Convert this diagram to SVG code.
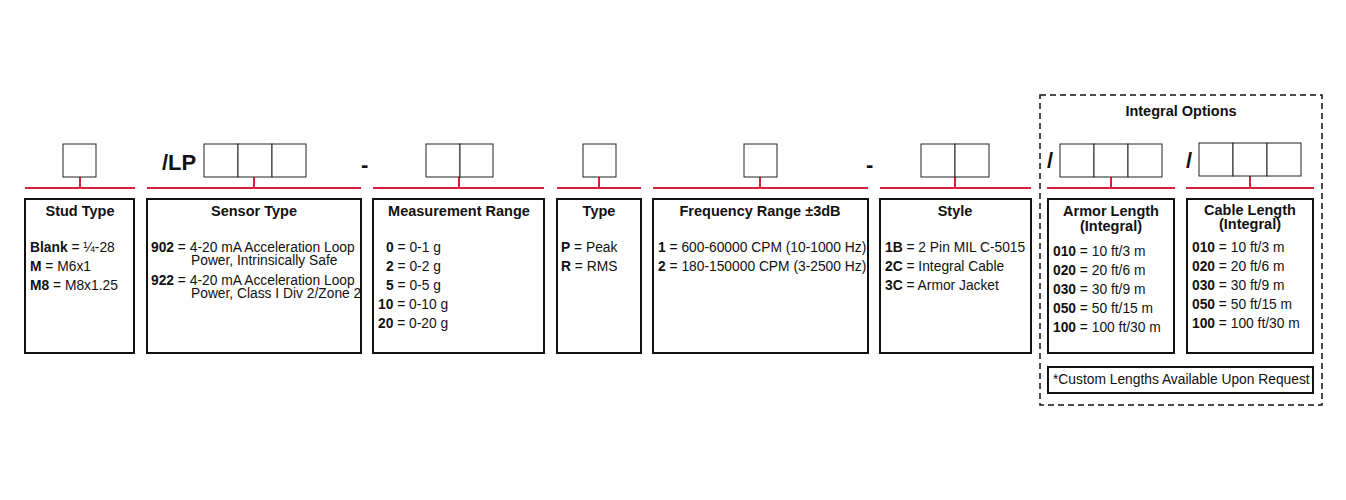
<svg xmlns="http://www.w3.org/2000/svg" width="1346" height="500" viewBox="0 0 1346 500">
<style>
text{font-family:"Liberation Sans",Arial,sans-serif;fill:#111;font-size:13.8px}
.t{font-weight:bold;font-size:14.5px;text-anchor:middle}
.b{font-weight:bold}
.big{font-weight:bold;font-size:22px}
.sq{fill:#fff;stroke:#222;stroke-width:1}
.box{fill:#fff;stroke:#111;stroke-width:2}
.red{stroke:#d8203a;stroke-width:2;fill:none}
</style>
<rect width="1346" height="500" fill="#fff"/>
<rect x="1040" y="95" width="282" height="310" fill="none" stroke="#111" stroke-width="1.5" stroke-dasharray="6,4"/>
<text x="1181" y="116" class="t">Integral Options</text>
<g id="connectors">
<path class="red" d="M25 188H135M80 177V188"/>
<path class="red" d="M147 188H361M254 177V188"/>
<path class="red" d="M373 188H544M459 177V188"/>
<path class="red" d="M557 188H641M599 177V188"/>
<path class="red" d="M653 188H868M760 177V188"/>
<path class="red" d="M880 188H1031M955 177V188"/>
<path class="red" d="M1047 188H1175M1111 177V188"/>
<path class="red" d="M1186 188H1314M1250 176V188"/>
</g>
<text x="162" y="170" class="big">/LP</text>
<text x="361" y="172" class="big" font-size="30">-</text>
<text x="866" y="172" class="big" font-size="30">-</text>
<text x="1047" y="168" class="big">/</text>
<text x="1186" y="168" class="big">/</text>
<g id="stud">
<rect class="sq" x="63" y="144" width="33" height="33"/>
<rect class="box" x="25" y="199" width="109" height="154"/>
<text x="80" y="216" class="t">Stud Type</text>
<text x="30" y="252"><tspan class="b">Blank</tspan> = ¼-28</text>
<text x="30" y="271"><tspan class="b">M</tspan> = M6x1</text>
<text x="30" y="290"><tspan class="b">M8</tspan> = M8x1.25</text>
</g>
<g id="sensor">
<rect class="sq" x="204" y="144" width="34" height="33"/><rect class="sq" x="238" y="144" width="34" height="33"/><rect class="sq" x="272" y="144" width="34" height="33"/>
<rect class="box" x="147" y="199" width="214" height="154"/>
<text x="254" y="216" class="t">Sensor Type</text>
<text x="151" y="252"><tspan class="b">902</tspan> = 4-20 mA Acceleration Loop</text>
<text x="191" y="265">Power, Intrinsically Safe</text>
<text x="151" y="285"><tspan class="b">922</tspan> = 4-20 mA Acceleration Loop</text>
<text x="191" y="298">Power, Class I Div 2/Zone 2</text>
</g>
<g id="range">
<rect class="sq" x="426" y="144" width="34" height="33"/><rect class="sq" x="460" y="144" width="33" height="33"/>
<rect class="box" x="373" y="199" width="171" height="154"/>
<text x="459" y="216" class="t">Measurement Range</text>
<text x="386" y="252"><tspan class="b">0</tspan> = 0-1 g</text>
<text x="386" y="271"><tspan class="b">2</tspan> = 0-2 g</text>
<text x="386" y="290"><tspan class="b">5</tspan> = 0-5 g</text>
<text x="378" y="309"><tspan class="b">10</tspan> = 0-10 g</text>
<text x="378" y="328"><tspan class="b">20</tspan> = 0-20 g</text>
</g>
<g id="type">
<rect class="sq" x="583" y="144" width="33" height="33"/>
<rect class="box" x="557" y="199" width="84" height="154"/>
<text x="599" y="216" class="t">Type</text>
<text x="561" y="252"><tspan class="b">P</tspan> = Peak</text>
<text x="561" y="271"><tspan class="b">R</tspan> = RMS</text>
</g>
<g id="freq">
<rect class="sq" x="744" y="144" width="33" height="33"/>
<rect class="box" x="653" y="199" width="215" height="154"/>
<text x="760" y="216" class="t">Frequency Range ±3dB</text>
<text x="658" y="252"><tspan class="b">1</tspan> = 600-60000 CPM (10-1000 Hz)</text>
<text x="658" y="271"><tspan class="b">2</tspan> = 180-150000 CPM (3-2500 Hz)</text>
</g>
<g id="style">
<rect class="sq" x="921" y="144" width="34" height="33"/><rect class="sq" x="955" y="144" width="34" height="33"/>
<rect class="box" x="880" y="199" width="151" height="154"/>
<text x="955" y="216" class="t">Style</text>
<text x="885" y="252"><tspan class="b">1B</tspan> = 2 Pin MIL C-5015</text>
<text x="885" y="271"><tspan class="b">2C</tspan> = Integral Cable</text>
<text x="885" y="290"><tspan class="b">3C</tspan> = Armor Jacket</text>
</g>
<g id="armor">
<rect class="sq" x="1060" y="144" width="34" height="33"/><rect class="sq" x="1094" y="144" width="34" height="33"/><rect class="sq" x="1128" y="144" width="34" height="33"/>
<rect class="box" x="1048" y="199" width="126" height="154"/>
<text x="1111" y="216" class="t">Armor Length</text>
<text x="1111" y="231" class="t">(Integral)</text>
<text x="1053" y="256"><tspan class="b">010</tspan> = 10 ft/3 m</text>
<text x="1053" y="275"><tspan class="b">020</tspan> = 20 ft/6 m</text>
<text x="1053" y="294"><tspan class="b">030</tspan> = 30 ft/9 m</text>
<text x="1053" y="313"><tspan class="b">050</tspan> = 50 ft/15 m</text>
<text x="1053" y="332"><tspan class="b">100</tspan> = 100 ft/30 m</text>
</g>
<g id="cable">
<rect class="sq" x="1199" y="143" width="34" height="33"/><rect class="sq" x="1233" y="143" width="34" height="33"/><rect class="sq" x="1267" y="143" width="34" height="33"/>
<rect class="box" x="1187" y="199" width="126" height="154"/>
<text x="1250" y="215" class="t">Cable Length</text>
<text x="1250" y="229" class="t">(Integral)</text>
<text x="1192" y="252"><tspan class="b">010</tspan> = 10 ft/3 m</text>
<text x="1192" y="271"><tspan class="b">020</tspan> = 20 ft/6 m</text>
<text x="1192" y="290"><tspan class="b">030</tspan> = 30 ft/9 m</text>
<text x="1192" y="309"><tspan class="b">050</tspan> = 50 ft/15 m</text>
<text x="1192" y="328"><tspan class="b">100</tspan> = 100 ft/30 m</text>
</g>
<g id="note">
<rect class="box" x="1048" y="367" width="265" height="26"/>
<text x="1053" y="384" font-size="13">*Custom Lengths Available Upon Request</text>
</g>
</svg>
